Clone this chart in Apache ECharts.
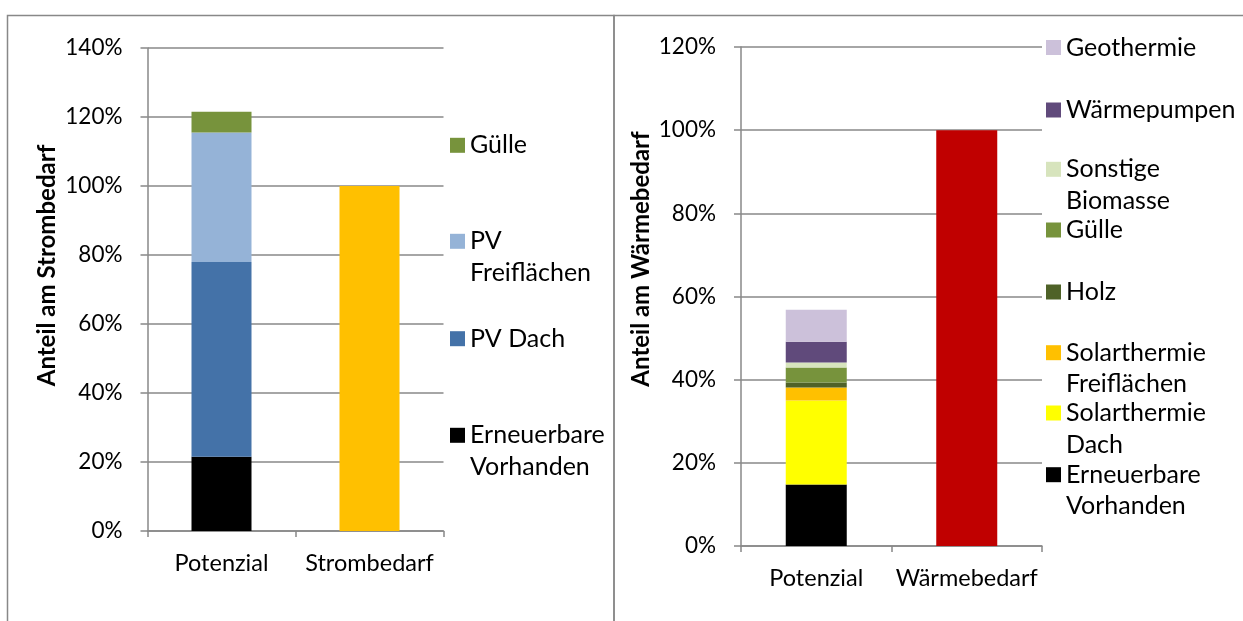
<!DOCTYPE html>
<html>
<head>
<meta charset="utf-8">
<script src="https://cdn.jsdelivr.net/npm/echarts@6/dist/echarts.min.js"></script>
<style>
html,body{margin:0;padding:0;background:#fff;}
#c{width:1243px;height:621px;}
</style>
</head>
<body>
<div id="c"></div>
<script>
// ---------- DATA ----------
const leftCategories = ['Potenzial', 'Strombedarf'];
const leftSeriesNames = ['Erneuerbare Vorhanden', 'PV Dach', 'PV Freiflächen', 'Gülle'];
const leftLegendLabels = ['Erneuerbare\nVorhanden', 'PV Dach', 'PV\nFreiflächen', 'Gülle'];
const leftPotenzialValues = [21.5, 56.5, 37.5, 6.0];
const stromBedarfValue = 100;
const leftTicks = [0, 20, 40, 60, 80, 100, 120, 140];

const rightCategories = ['Potenzial', 'Wärmebedarf'];
const rightSeriesNames = ['Erneuerbare Vorhanden ', 'Solarthermie Dach', 'Solarthermie Freiflächen', 'Holz', 'Gülle ', 'Sonstige Biomasse', 'Wärmepumpen', 'Geothermie'];
const rightLegendLabels = ['Erneuerbare\nVorhanden', 'Solarthermie\nDach', 'Solarthermie\nFreiflächen', 'Holz', 'Gülle', 'Sonstige\nBiomasse', 'Wärmepumpen', 'Geothermie'];
const rightPotenzialValues = [14.8, 20.2, 3.1, 1.2, 3.6, 1.2, 5.0, 7.7];
const waermeBedarfValue = 100;
const rightTicks = [0, 20, 40, 60, 80, 100, 120];

// ---------- STYLE ----------
const leftColors = ['#000000', '#4472A8', '#95B3D7', '#77933C'];
const stromColor = '#FFC000';
const rightColors = ['#000000', '#FFFF00', '#FFC000', '#4F6228', '#77933C', '#D7E4BD', '#604A7B', '#CCC1DA'];
const waermeColor = '#C00000';
const FONT = 'Lato';
const FS_TICK = 22.5;
const FS_CAT = 23.5;
const FS_LEG = 25;
const LH = 31.5;
const gray = '#888888';

// legend icon centres (layout)
const leftLegendY = [435.3, 338.7, 241.3, 145.3];
const rightLegendY = [474.7, 413, 352.7, 292, 230, 169.3, 110, 47.5];

const chart = echarts.init(document.getElementById('c'), null, {renderer: 'canvas'});

function legendFor(name, label, cy, left) {
  const lines = label.split('\n').length;
  // multi-line entries: a blank leading line so that the first text line sits beside the marker
  const shown = lines === 1 ? label : ' \n' + label;
  const boxH = lines === 1 ? LH : 3 * LH;
  return {
    data: [name],
    left: left,
    top: cy - boxH / 2,
    padding: 0,
    itemWidth: 15,
    itemHeight: 15,
    itemGap: 0,
    itemTextGap: 7,
    icon: 'rect',
    selectedMode: false,
    formatter: () => shown,
    textStyle: {fontFamily: FONT, fontSize: FS_LEG, color: '#000', lineHeight: LH}
  };
}

const legends = [];
leftSeriesNames.forEach((n, i) => legends.push(legendFor(n, leftLegendLabels[i], leftLegendY[i], 450)));
rightSeriesNames.forEach((n, i) => legends.push(legendFor(n, rightLegendLabels[i], rightLegendY[i], 1046)));

function yAxisDef(gridIndex, ticks, name, gap, shift) {
  return {
    type: 'value', gridIndex: gridIndex,
    min: ticks[0], max: ticks[ticks.length - 1], interval: ticks[1] - ticks[0],
    name: name, nameLocation: 'middle', nameGap: gap,
    nameTextStyle: {fontFamily: FONT, fontSize: 24, fontWeight: 'bold', color: '#000', padding: [0, 0, 0, shift]},
    axisLine: {show: true, lineStyle: {color: gray, width: 1.5}},
    axisTick: {show: true, length: 7, lineStyle: {color: gray, width: 1.5}},
    splitLine: {show: true, lineStyle: {color: gray, width: 1.5}},
    axisLabel: {fontFamily: FONT, fontSize: FS_TICK, color: '#000', margin: 25, formatter: '{value}%'}
  };
}
function xAxisDef(gridIndex, cats) {
  return {
    type: 'category', gridIndex: gridIndex, data: cats,
    axisLine: {show: true, lineStyle: {color: gray, width: 1.5}},
    axisTick: {show: true, length: 6, interval: 0, lineStyle: {color: gray, width: 1.5}},
    axisLabel: {fontFamily: FONT, fontSize: FS_CAT, color: '#000', margin: 20, interval: 0, hideOverlap: false},
    splitLine: {show: false}
  };
}

const series = [];
leftSeriesNames.forEach((n, i) => series.push({
  name: n, type: 'bar', xAxisIndex: 0, yAxisIndex: 0, stack: 'L', barWidth: 60,
  itemStyle: {color: leftColors[i]}, data: [leftPotenzialValues[i], '-'], animation: false
}));
series.push({name: 'Strombedarf', type: 'bar', xAxisIndex: 0, yAxisIndex: 0, stack: 'L', barWidth: 60,
  itemStyle: {color: stromColor}, data: ['-', stromBedarfValue], animation: false});
rightSeriesNames.forEach((n, i) => series.push({
  name: n, type: 'bar', xAxisIndex: 1, yAxisIndex: 1, stack: 'R', barWidth: 61,
  itemStyle: {color: rightColors[i]}, data: [rightPotenzialValues[i], '-'], animation: false
}));
series.push({name: 'Wärmebedarf', type: 'bar', xAxisIndex: 1, yAxisIndex: 1, stack: 'R', barWidth: 61,
  itemStyle: {color: waermeColor}, data: ['-', waermeBedarfValue], animation: false});

chart.setOption({
  animation: false,
  backgroundColor: '#fff',
  grid: [
    {left: 147.5, top: 48, width: 296, height: 483},
    {left: 741, top: 47, width: 301, height: 499}
  ],
  xAxis: [xAxisDef(0, leftCategories), xAxisDef(1, rightCategories)],
  yAxis: [
    yAxisDef(0, leftTicks, 'Anteil am Strombedarf', 88, 48),
    yAxisDef(1, rightTicks, 'Anteil am Wärmebedarf', 88, 75)
  ],
  legend: legends,
  graphic: [
    {type: 'rect', shape: {x: 7.5, y: 15.5, width: 606.5, height: 700}, style: {fill: 'none', stroke: gray, lineWidth: 1.5}, silent: true, z: -1},
    {type: 'rect', shape: {x: 614, y: 15.5, width: 700, height: 700}, style: {fill: 'none', stroke: gray, lineWidth: 1.5}, silent: true, z: -1}
  ],
  series: series
});
</script>
</body>
</html>
